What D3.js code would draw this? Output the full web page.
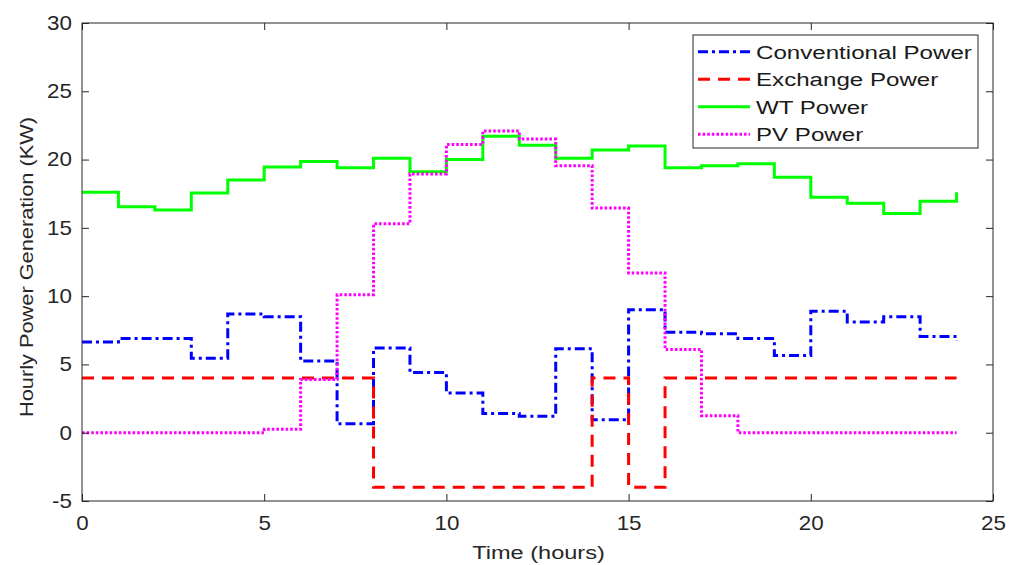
<!DOCTYPE html>
<html>
<head>
<meta charset="utf-8">
<script src="https://cdn.jsdelivr.net/npm/d3@7/dist/d3.min.js"></script>
<style>
  body { margin: 0; background: #fff; }
  svg { display: block; font-family: "Liberation Sans", Arial, sans-serif; }
</style>
</head>
<body>
<svg id="chart" width="1021" height="565"></svg>
<script>
// hourly values (stairs plot, 25 points incl. hour 24)
const hours = [0, 1, 2, 3, 4, 5, 6, 7, 8, 9, 10, 11, 12, 13, 14, 15, 16, 17, 18, 19, 20, 21, 22, 23, 24];
const conventional = [6.65, 6.9, 6.9, 5.45, 8.7, 8.5, 5.25, 0.65, 6.2, 4.4, 2.9, 1.4, 1.2, 6.15, 0.95, 9.0, 7.35, 7.25, 6.9, 5.65, 8.9, 8.1, 8.5, 7.05, 6.75];
const exchange = [4, 4, 4, 4, 4, 4, 4, 4, -4, -4, -4, -4, -4, -4, 4, -4, 4, 4, 4, 4, 4, 4, 4, 4, 4];
const wt = [17.6, 16.55, 16.3, 17.55, 18.5, 19.45, 19.85, 19.4, 20.1, 19.1, 20.0, 21.7, 21.05, 20.1, 20.7, 21.0, 19.4, 19.55, 19.7, 18.7, 17.25, 16.8, 16.05, 16.95, 17.6];
const pv = [0, 0, 0, 0, 0, 0.25, 3.9, 10.1, 15.3, 18.95, 21.1, 22.1, 21.5, 19.55, 16.45, 11.7, 6.1, 1.25, 0, 0, 0, 0, 0, 0, 0];
const seriesNames = ['Conventional Power', 'Exchange Power', 'WT Power', 'PV Power'];
const xTicks = [0, 5, 10, 15, 20, 25];
const yTicks = [-5, 0, 5, 10, 15, 20, 25, 30];

// line styles in plotting order (matlab default-ish colours)
const styles = [
  { color: '#0000ff', dash: '10,4,3,4' },
  { color: '#ff0000', dash: '12,8' },
  { color: '#00ff00', dash: null },
  { color: '#ff00ff', dash: '2.6,2' },
];
const allSeries = [conventional, exchange, wt, pv];

const svg = d3.select('#chart');
const margin = { top: 23, right: 28, bottom: 64, left: 82 };
const width = 1021 - margin.left - margin.right;
const height = 565 - margin.top - margin.bottom;
const axisColor = '#262626';

const chart = svg.append('g')
  .attr('transform', `translate(${margin.left}, ${margin.top})`);

const xScale = d3.scaleLinear().domain([0, 25]).range([0, width]);
const yScale = d3.scaleLinear().domain([-5, 30]).range([height, 0]);

chart.append('rect')
  .attr('width', width).attr('height', height)
  .attr('fill', '#fff');

// stairs lines
const line = d3.line()
  .x((d, i) => xScale(hours[i]))
  .y(d => yScale(d))
  .curve(d3.curveStepAfter);

chart.selectAll('.series')
  .data(allSeries)
  .enter()
  .append('path')
  .attr('class', 'series')
  .attr('d', d => line(d))
  .attr('fill', 'none')
  .attr('stroke', (d, i) => styles[i].color)
  .attr('stroke-width', 3)
  .attr('stroke-dasharray', (d, i) => styles[i].dash);

// axes, ticks pointing inward on all four sides (box on)
const plainLabel = d => String(d); // keep the ascii hyphen on "-5"
const styleAxis = g => {
  g.select('.domain').remove();
  g.selectAll('line').attr('stroke', axisColor);
  g.selectAll('text')
    .attr('fill', axisColor)
    .style('font-size', '20px');
};

chart.append('g')
  .attr('transform', `translate(0, ${height})`)
  .call(d3.axisBottom(xScale).tickValues(xTicks).tickFormat(plainLabel).tickSize(-7).tickPadding(15))
  .call(styleAxis)
  .selectAll('text').attr('transform', 'scale(1.12,1)');

chart.append('g')
  .call(d3.axisTop(xScale).tickValues(xTicks).tickSize(-7).tickFormat(''))
  .call(styleAxis);

chart.append('g')
  .call(d3.axisLeft(yScale).tickValues(yTicks).tickFormat(plainLabel).tickSize(-7).tickPadding(9))
  .call(styleAxis)
  .selectAll('text').attr('transform', 'scale(1.12,1)');

chart.append('g')
  .attr('transform', `translate(${width}, 0)`)
  .call(d3.axisRight(yScale).tickValues(yTicks).tickSize(-7).tickFormat(''))
  .call(styleAxis);

chart.append('rect')
  .attr('width', width).attr('height', height)
  .attr('fill', 'none')
  .attr('stroke', axisColor)
  .attr('stroke-width', 1);

// axis titles
chart.append('g')
  .attr('transform', `translate(${width / 2 + 1}, ${height + 58}) scale(1.24,1)`)
  .append('text')
  .attr('text-anchor', 'middle')
  .attr('fill', axisColor)
  .style('font-size', '19px')
  .text('Time (hours)');

chart.append('g')
  .attr('transform', `translate(-49.5, ${height / 2 + 5}) rotate(-90) scale(1.21,1)`)
  .append('text')
  .attr('text-anchor', 'middle')
  .attr('fill', axisColor)
  .style('font-size', '18px')
  .text('Hourly Power Generation (KW)');

// legend
const legend = chart.append('g')
  .attr('transform', `translate(${width - 300}, 12)`);

legend.append('rect')
  .attr('width', 285).attr('height', 113)
  .attr('fill', '#fff')
  .attr('stroke', axisColor)
  .attr('stroke-width', 1);

const items = legend.selectAll('.item')
  .data(seriesNames)
  .enter()
  .append('g')
  .attr('class', 'item')
  .attr('transform', (d, i) => `translate(0, ${16.7 + i * 27.5})`);

items.append('line')
  .attr('x1', 5).attr('x2', 57)
  .attr('stroke', (d, i) => styles[i].color)
  .attr('stroke-width', 3)
  .attr('stroke-dasharray', (d, i) => styles[i].dash);

items.append('g')
  .attr('transform', 'translate(63, 0) scale(1.27,1)')
  .append('text')
  .attr('dy', '0.36em')
  .attr('fill', '#1a1a1a')
  .style('font-size', '19px')
  .text(d => d);
</script>
</body>
</html>
